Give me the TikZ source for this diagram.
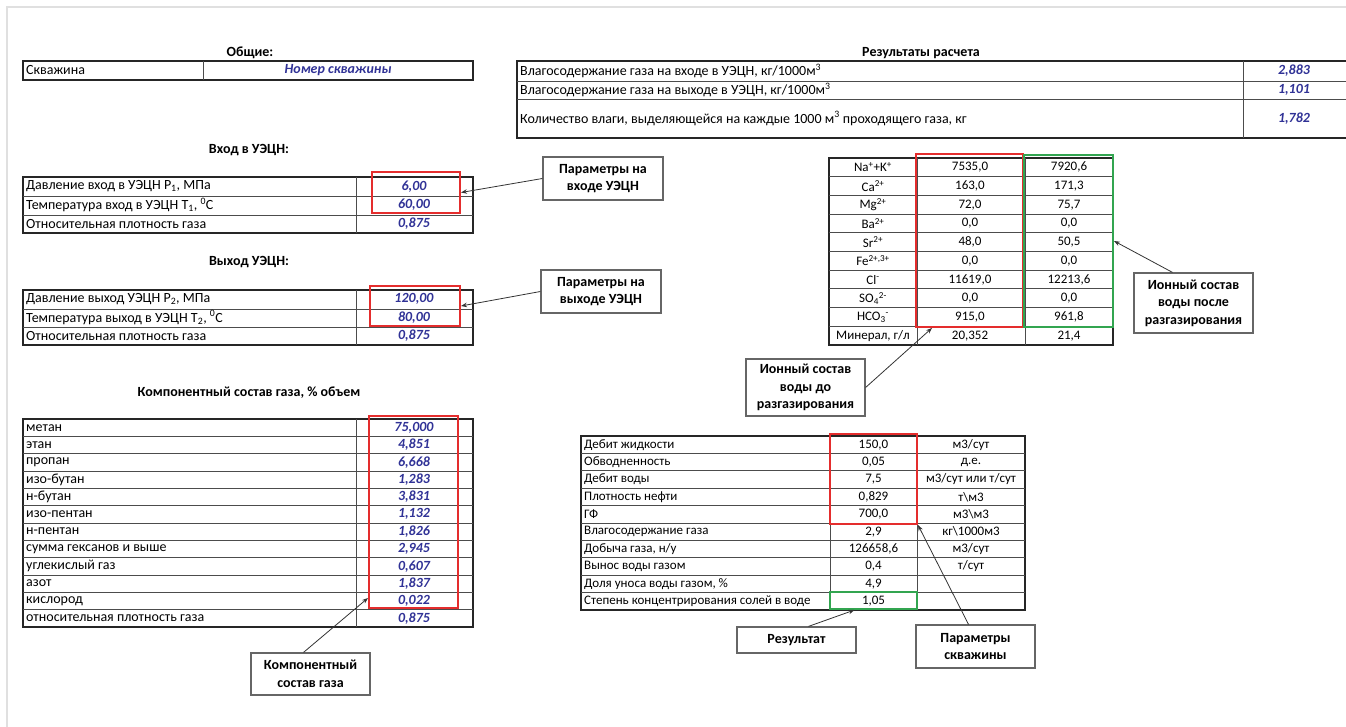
\documentclass[tikz,border=0pt]{standalone}
\usepackage{fontspec}
\setmainfont{Carlito}
\usetikzlibrary{arrows.meta}
\definecolor{valblue}{RGB}{48,50,150}
\definecolor{boxred}{RGB}{228,45,45}
\definecolor{boxgreen}{RGB}{50,165,80}

\begin{document}
\begin{tikzpicture}[x=1pt,y=-1pt,>={Stealth[length=6pt,width=4.5pt]},
  txt/.style={inner sep=0,font=\fontsize{14}{16}\selectfont},
  small/.style={inner sep=0,font=\fontsize{13}{15}\selectfont},
  lbl/.style={txt,anchor=west},
  val/.style={inner sep=0,text=valblue,font=\fontsize{14}{16}\selectfont\bfseries\itshape},
  ttl/.style={inner sep=0,font=\fontsize{14}{16}\selectfont\bfseries},
  outer/.style={draw=black!85,line width=1.6},
  rule/.style={draw=black!70,line width=0.9},
  redbox/.style={draw=boxred,line width=2,inner sep=0},
  greenbox/.style={draw=boxgreen,line width=2,inner sep=0},
  callout/.style={draw=black!60,line width=1.2,fill=white,align=center,inner sep=0,
    font=\fontsize{14}{17.5}\selectfont\bfseries},
  pointer/.style={->,draw=black!80,line width=0.8}]
  \useasboundingbox (0,0) rectangle (1346,727);
  % page frame
  \draw[black!12,line width=1.5] (7,727) -- (7,7) -- (1346,7);

  % general
  \node[ttl] (tgen) at (250,53) {Общие:};
  \draw[outer] (23,61) rectangle (473,80);
  \draw[rule] (203,61) -- (203,80);
  \node[lbl] (well) at (26,70.5) {Скважина};
  \node[val] (wellno) at (338,70.5) {Номер скважины};

  % pump inlet
  \node[ttl] (tin) at (249,150) {Вход в УЭЦН:};
  \draw[outer] (23,177) rectangle (473,233);
  \draw[rule] (356,177) -- (356,233);
  \foreach \y in {196,215} \draw[rule] (23,\y) -- (473,\y);
  \foreach \nm/\vl [count=\i] in {{Давление вход в УЭЦН P\textsubscript{1}, МПа}/{6,00},
      {Температура вход в УЭЦН T\textsubscript{1}, \textsuperscript{0}C}/{60,00},
      {Относительная плотность газа}/{0,875}} {
    \node[lbl] (in\i) at (26,{177+(\i-0.5)*18.67}) {\nm};
    \node[val] (inv\i) at (414,{177+(\i-0.5)*18.67}) {\vl};
  }

  % pump outlet
  \node[ttl] (tout) at (249,262) {Выход УЭЦН:};
  \draw[outer] (23,290) rectangle (473,345);
  \draw[rule] (356,290) -- (356,345);
  \foreach \y in {309,327} \draw[rule] (23,\y) -- (473,\y);
  \foreach \nm/\vl [count=\i] in {{Давление выход УЭЦН P\textsubscript{2}, МПа}/{120,00},
      {Температура выход в УЭЦН T\textsubscript{2}, \textsuperscript{0}C}/{80,00},
      {Относительная плотность газа}/{0,875}} {
    \node[lbl] (out\i) at (26,{290+(\i-0.5)*18.33}) {\nm};
    \node[val] (outv\i) at (414,{290+(\i-0.5)*18.33}) {\vl};
  }

  % gas composition
  \node[ttl] (tgas) at (249,393) {Компонентный состав газа, \% объем};
  \draw[outer] (23,419) rectangle (473,627);
  \draw[rule] (356,419) -- (356,627);
  \foreach \i in {1,...,11} \draw[rule] (23,{419+\i*17.33}) -- (473,{419+\i*17.33});
  \foreach \nm/\vl [count=\i] in {метан/{75,000}, этан/{4,851}, пропан/{6,668},
      изо-бутан/{1,283}, н-бутан/{3,831}, изо-пентан/{1,132}, н-пентан/{1,826},
      {сумма гексанов и выше}/{2,945}, {углекислый газ}/{0,607}, азот/{1,837},
      кислород/{0,022}, {относительная плотность газа}/{0,875}} {
    \node[lbl] (gas\i) at (26,{419+(\i-0.5)*17.33}) {\nm};
    \node[val] (gasv\i) at (414,{419+(\i-0.5)*17.33}) {\vl};
  }

  % results
  \node[ttl] (tres) at (921,53) {Результаты расчета};
  \draw[outer] (1346,61) -- (517,61) -- (517,138) -- (1346,138);
  \draw[rule] (1243,61) -- (1243,138);
  \foreach \y in {81,99} \draw[rule] (517,\y) -- (1346,\y);
  \node[lbl] (res1) at (520,71) {Влагосодержание газа на входе в УЭЦН, кг/1000м\textsuperscript{3}};
  \node[lbl] (res2) at (520,90) {Влагосодержание газа на выходе в УЭЦН, кг/1000м\textsuperscript{3}};
  \node[lbl] (res3) at (520,118.5) {Количество влаги, выделяющейся на каждые 1000 м\textsuperscript{3} проходящего газа, кг};
  \node[val] (resv1) at (1294,71) {2,883};
  \node[val] (resv2) at (1294,90) {1,101};
  \node[val] (resv3) at (1294,118.5) {1,782};

  % ion composition
  \draw[outer,line width=1.2] (829,158) rectangle (1113,345);
  \foreach \x in {917,1025} \draw[rule] (\x,158) -- (\x,345);
  \foreach \i in {1,...,9} \draw[rule] (829,{158+\i*18.7}) -- (1113,{158+\i*18.7});
  \foreach \nm/\va/\vb [count=\i] in {{Na\textsuperscript{+}+K\textsuperscript{+}}/{7535,0}/{7920,6},
      {Ca\textsuperscript{2+}}/{163,0}/{171,3}, {Mg\textsuperscript{2+}}/{72,0}/{75,7},
      {Ba\textsuperscript{2+}}/{0,0}/{0,0}, {Sr\textsuperscript{2+}}/{48,0}/{50,5},
      {Fe\textsuperscript{2+,3+}}/{0,0}/{0,0}, {Cl\textsuperscript{-}}/{11619,0}/{12213,6},
      {SO\textsubscript{4}\textsuperscript{2-}}/{0,0}/{0,0},
      {HCO\textsubscript{3}\textsuperscript{-}}/{915,0}/{961,8},
      {Минерал, г/л}/{20,352}/{21,4}} {
    \node[small] (ion\i) at (873,{158+(\i-0.5)*18.7}) {\nm};
    \node[small] (iona\i) at (970,{158+(\i-0.5)*18.7}) {\va};
    \node[small] (ionb\i) at (1069,{158+(\i-0.5)*18.7}) {\vb};
  }

  % well data
  \draw[outer,line width=1.4] (581,436) rectangle (1025,610);
  \foreach \x in {830,917} \draw[rule] (\x,436) -- (\x,610);
  \foreach \i in {1,...,9} \draw[rule] (581,{436+\i*17.4}) -- (1025,{436+\i*17.4});
  \foreach \nm/\va/\vb [count=\i] in {{Дебит жидкости}/{150,0}/{м3/сут},
      {Обводненность}/{0,05}/{д.е.},
      {Дебит воды}/{7,5}/{м3/сут или т/сут},
      {Плотность нефти}/{0,829}/{т\textbackslash м3},
      {ГФ}/{700,0}/{м3\textbackslash м3},
      {Влагосодержание газа}/{2,9}/{кг\textbackslash 1000м3},
      {Добыча газа, н/у}/{126658,6}/{м3/сут},
      {Вынос воды газом}/{0,4}/{т/сут},
      {Доля уноса воды газом, \%}/{4,9}/{},
      {Степень концентрирования солей в воде}/{1,05}/{}} {
    \node[small,anchor=west] (wl\i) at (584,{436+(\i-0.5)*17.4}) {\nm};
    \node[small] (wla\i) at (873.5,{436+(\i-0.5)*17.4}) {\va};
    \node[small] (wlb\i) at (971,{436+(\i-0.5)*17.4}) {\vb};
  }

  % highlighted groups
  \node[redbox,minimum width=88,minimum height=41] (inbox) at (416,192.5) {};
  \node[redbox,minimum width=90,minimum height=40] (outbox) at (415,306) {};
  \node[redbox,minimum width=89,minimum height=192] (gasbox) at (413.5,512) {};
  \node[redbox,minimum width=107,minimum height=173] (ionred) at (969.5,240.5) {};
  \node[greenbox,minimum width=89,minimum height=172] (iongreen) at (1068.5,241) {};
  \node[redbox,minimum width=87,minimum height=90] (wellred) at (873.5,479) {};
  \node[greenbox,minimum width=87,minimum height=17] (wellgreen) at (873.5,600.5) {};

  % callouts
  \node[callout,minimum width=120,minimum height=43] (cin) at (603,178.5) {Параметры на\\входе УЭЦН};
  \node[callout,minimum width=120,minimum height=43] (cout) at (601,291.5) {Параметры на\\выходе УЭЦН};
  \node[callout,minimum width=119,minimum height=42] (cgas) at (310.5,674) {Компонентный\\состав газа};
  \node[callout,minimum width=119,minimum height=57] (cbef) at (805.5,387.5) {Ионный состав\\воды до\\разгазирования};
  \node[callout,minimum width=119,minimum height=60] (caft) at (1193.5,303) {Ионный состав\\воды после\\разгазирования};
  \node[callout,minimum width=119,minimum height=26] (cres) at (796.5,640) {Результат};
  \node[callout,minimum width=119,minimum height=43] (cwell) at (975.5,646.5) {Параметры\\скважины};

  \draw[pointer] (cin.west) -- (inbox.east);
  \draw[pointer] (cout.west) -- (outbox.east);
  \draw[pointer] ([xshift=-7pt]cgas.north) -- ([yshift=11pt]gasbox.south west);
  \draw[pointer] (cbef.east) -- ([xshift=17pt]ionred.south west);
  \draw[pointer] ([xshift=-21pt]caft.north) -- (iongreen.east);
  \draw[pointer] ([xshift=12pt]cres.north) -- ([xshift=-19pt]wellgreen.south);
  \draw[pointer] ([xshift=-7pt]cwell.north) -- (wellred.south east);
\end{tikzpicture}
\end{document}
